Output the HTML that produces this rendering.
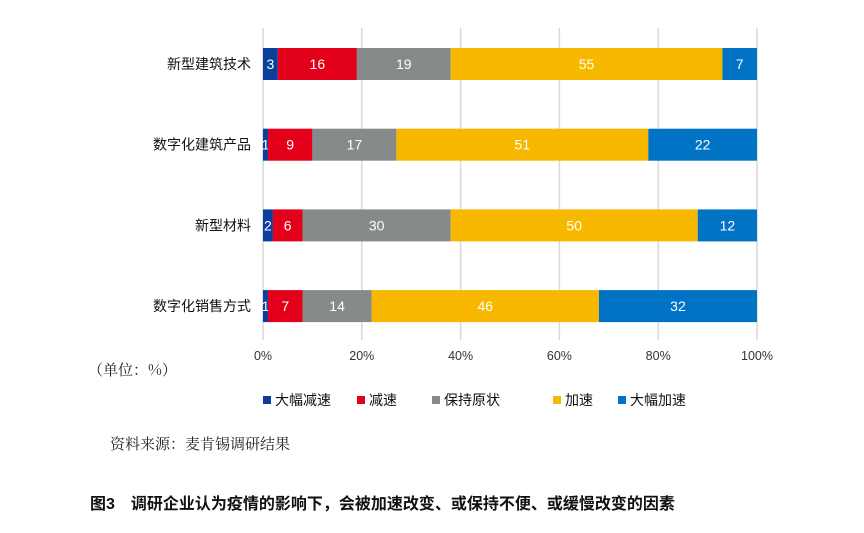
<!DOCTYPE html>
<html><head><meta charset="utf-8">
<style>
body{margin:0;background:#fff;width:864px;height:533px;overflow:hidden;position:relative;font-family:"Liberation Sans","Noto Sans CJK SC",sans-serif;}
.t{position:absolute;white-space:nowrap;}
</style></head><body>
<svg id="chart" width="864" height="533" style="position:absolute;left:0;top:0"></svg>
<div class="t" style="left:88px;top:359px;font-size:15px;font-family:'Noto Serif CJK SC',serif;color:#222;">（单位：%）</div>
<div class="t" style="left:110px;top:433px;font-size:15px;font-family:'Noto Serif CJK SC',serif;color:#222;">资料来源：麦肯锡调研结果</div>
<div class="t" style="left:90px;top:490px;font-size:16px;font-weight:bold;color:#111;">图3　调研企业认为疫情的影响下，会被加速改变、或保持不便、或缓慢改变的因素</div>
<script>
const categories=["新型建筑技术","数字化建筑产品","新型材料","数字化销售方式"];
const seriesNames=["大幅减速","减速","保持原状","加速","大幅加速"];
const s1=[3,1,2,1];
const s2=[16,9,6,7];
const s3=[19,17,30,14];
const s4=[55,51,50,46];
const s5=[7,22,12,32];
const ticks=[0,20,40,60,80,100];
const colors=["#0a3d9c","#e2001a","#858b8b","#f8b800","#0073c4"];
const series=[s1,s2,s3,s4,s5];
const svg=document.getElementById('chart');
const NS='http://www.w3.org/2000/svg';
const x0=263,x1=757,yTop=28,yBot=340;
const xs=v=>x0+(x1-x0)*v/100;
const yc=i=>64+i*80.7;
const bh=32;
function mk(tag,attrs){const e=document.createElementNS(NS,tag);for(const k in attrs)e.setAttribute(k,attrs[k]);svg.appendChild(e);return e;}
ticks.forEach(t=>{
  const l=mk('line',{x1:xs(t),x2:xs(t),y1:yTop,y2:yBot,stroke:'#d9d9d9','stroke-width':1.5});
  
  
  const tx=mk('text',{x:xs(t),y:360,'text-anchor':'middle','font-size':12.5,fill:'#333'});
  tx.textContent=t+'%';
  
  
});
categories.forEach((c,i)=>{
  const lb=mk('text',{x:251,y:yc(i)+5,'text-anchor':'end','font-size':14,fill:'#111'});
  lb.textContent=c;
  
  
  let cum=0;
  series.forEach((s,j)=>{
    const v=s[i];
    const r=mk('rect',{x:xs(cum),y:yc(i)-bh/2,width:xs(cum+v)-xs(cum),height:bh,fill:colors[j]});
    
    
    const tv=mk('text',{x:(xs(cum)+xs(cum+v))/2,y:yc(i)+5,'text-anchor':'middle','font-size':14,fill:'#fff'});
    tv.textContent=v;
    
    
    cum+=v;
  });
});
const lx=[263,357,432,553,618];
seriesNames.forEach((n,j)=>{
  const r=mk('rect',{x:lx[j],y:396,width:8,height:8,fill:colors[j]});
  
  
  const t=mk('text',{x:lx[j]+12,y:405,'font-size':14,fill:'#111'});
  t.textContent=n;
  
  
});
</script>
</body></html>
